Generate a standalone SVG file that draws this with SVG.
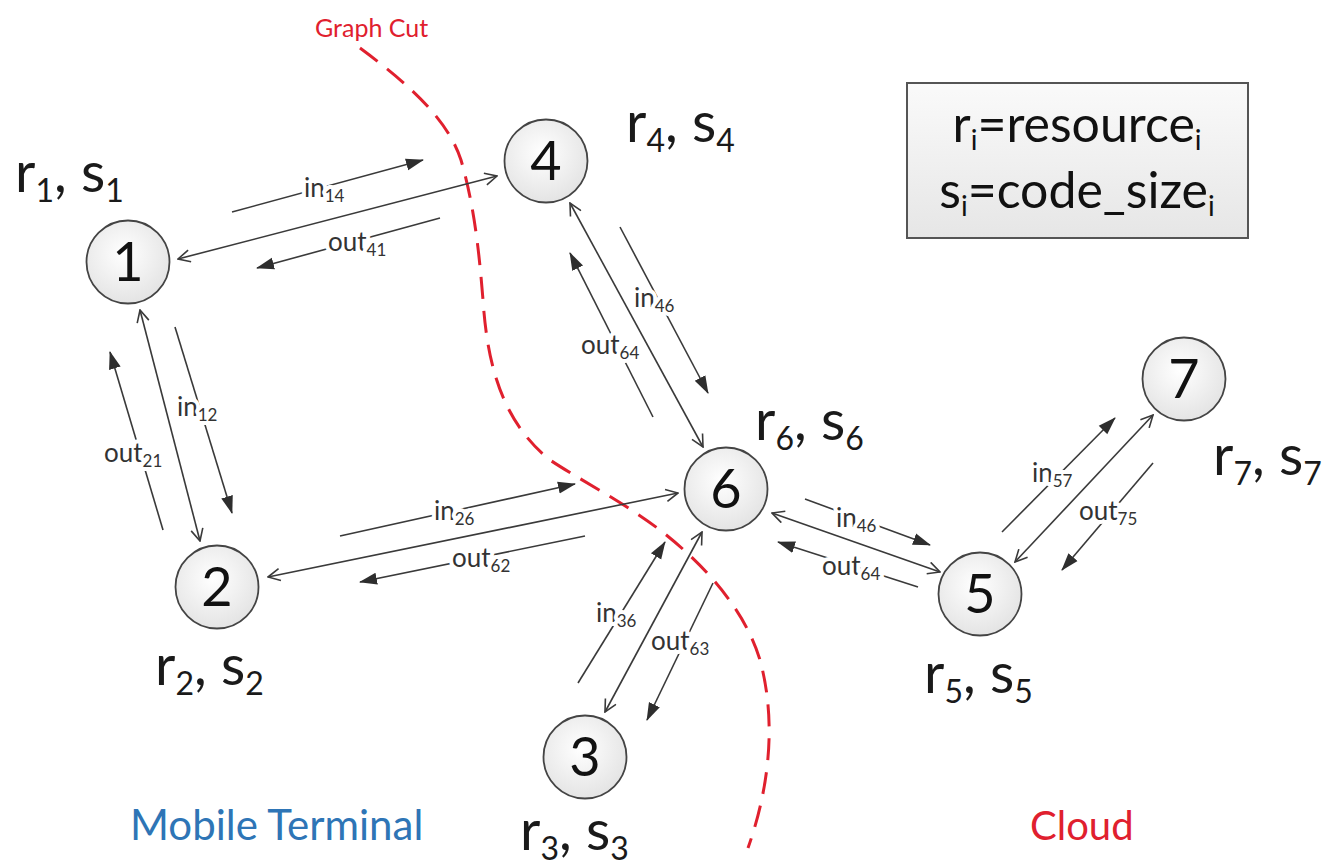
<svg xmlns="http://www.w3.org/2000/svg" width="1329" height="865" viewBox="0 0 1329 865">
<defs>
<radialGradient id="ng" cx="45%" cy="40%" r="60%"><stop offset="0" stop-color="#ffffff"/><stop offset="1" stop-color="#e4e4e4"/></radialGradient>
<linearGradient id="lg" x1="0" y1="0" x2="0" y2="1"><stop offset="0" stop-color="#fafafa"/><stop offset="1" stop-color="#e6e6e6"/></linearGradient>
<marker id="open" viewBox="0 0 14 14" refX="13" refY="7" markerWidth="14" markerHeight="14" markerUnits="userSpaceOnUse" orient="auto-start-reverse"><path d="M1,1 L13,7 L1,13" fill="none" stroke="#3a3a3a" stroke-width="1.6"/></marker>
<marker id="fill" viewBox="0 0 18 14" refX="17" refY="7" markerWidth="18" markerHeight="14" markerUnits="userSpaceOnUse" orient="auto"><path d="M0,1 L18,7 L0,13 z" fill="#2e2e2e"/></marker>
</defs>
<style>
.node circle{fill:url(#ng);stroke:#444;stroke-width:1.8}
.num{font-family:Lato,"Liberation Sans",sans-serif;font-size:54px;fill:#111;text-anchor:middle}
.rs{font-family:Lato,"Liberation Sans",sans-serif;font-size:56px;fill:#1a1a1a}
.sb{font-size:32px}
.dbl{stroke:#3a3a3a;stroke-width:1.6;fill:none;marker-start:url(#open);marker-end:url(#open)}
.par{stroke:#3a3a3a;stroke-width:1.6;fill:none;marker-end:url(#fill)}
.lab{font-family:Lato,"Liberation Sans",sans-serif;font-size:26px;fill:#333;stroke:#fff;stroke-width:8px;paint-order:stroke;stroke-linejoin:round}
.ls{font-size:17px}
.cut{stroke:#e0202e;stroke-width:3;fill:none;stroke-dasharray:22 12}
</style>
<rect width="1329" height="865" fill="#fff"/>
<g id="graph-cut">
<path class="cut" d="M 360 48 C 410 85, 448 120, 461 160 C 474 205, 479 250, 483 300 C 487 360, 500 420, 550 460 C 580 480, 620 500, 660 530 C 705 565, 745 610, 760 660 C 775 715, 772 780, 748 848"/>
<text x="315" y="37" font-family="Lato,'Liberation Sans',sans-serif" font-size="25" fill="#e0202e">Graph Cut</text>
</g>
<g id="connectors">
<line class="par" x1="232" y1="212" x2="423" y2="160"/>
<line class="par" x1="440" y1="218" x2="257" y2="268"/>
<line class="par" x1="175" y1="327" x2="232" y2="513"/>
<line class="par" x1="163" y1="530" x2="110" y2="352"/>
<line class="par" x1="620" y1="227" x2="708" y2="393"/>
<line class="par" x1="653" y1="417" x2="570" y2="253"/>
<line class="par" x1="340" y1="536" x2="575" y2="484"/>
<line class="par" x1="585" y1="536" x2="360" y2="582"/>
<line class="par" x1="578" y1="683" x2="665" y2="542"/>
<line class="par" x1="713" y1="583" x2="647" y2="720"/>
<line class="par" x1="805" y1="499" x2="930" y2="545"/>
<line class="par" x1="918" y1="587" x2="778" y2="542"/>
<line class="par" x1="1002" y1="532" x2="1115" y2="418"/>
<line class="par" x1="1153" y1="463" x2="1062" y2="570"/>
<text class="lab" x="304" y="197">in<tspan class="ls" dy="5">14</tspan></text>
<text class="lab" x="328" y="251">out<tspan class="ls" dy="5">41</tspan></text>
<text class="lab" x="177" y="416">in<tspan class="ls" dy="5">12</tspan></text>
<text class="lab" x="104" y="462">out<tspan class="ls" dy="5">21</tspan></text>
<text class="lab" x="634" y="307">in<tspan class="ls" dy="5">46</tspan></text>
<text class="lab" x="581" y="354">out<tspan class="ls" dy="5">64</tspan></text>
<text class="lab" x="434" y="520">in<tspan class="ls" dy="5">26</tspan></text>
<text class="lab" x="452" y="567">out<tspan class="ls" dy="5">62</tspan></text>
<text class="lab" x="596" y="622">in<tspan class="ls" dy="5">36</tspan></text>
<text class="lab" x="651" y="650">out<tspan class="ls" dy="5">63</tspan></text>
<text class="lab" x="836" y="527">in<tspan class="ls" dy="5">46</tspan></text>
<text class="lab" x="822" y="575">out<tspan class="ls" dy="5">64</tspan></text>
<text class="lab" x="1032" y="482">in<tspan class="ls" dy="5">57</tspan></text>
<text class="lab" x="1079" y="520">out<tspan class="ls" dy="5">75</tspan></text>
<line class="dbl" x1="178" y1="259" x2="497" y2="176"/>
<line class="dbl" x1="140" y1="310" x2="200" y2="541"/>
<line class="dbl" x1="268" y1="577" x2="678" y2="493"/>
<line class="dbl" x1="570" y1="203" x2="703" y2="447"/>
<line class="dbl" x1="605" y1="712" x2="702" y2="532"/>
<line class="dbl" x1="772" y1="513" x2="940" y2="572"/>
<line class="dbl" x1="1015" y1="562" x2="1153" y2="415"/>
</g>
<g id="node1" class="node"><circle cx="128" cy="262" r="41.5"/><text class="num" x="128" y="281">1</text><text class="rs" x="15" y="192">r<tspan class="sb" dy="10">1</tspan><tspan dy="-10">, s</tspan><tspan class="sb" dy="10">1</tspan></text></g>
<g id="node2" class="node"><circle cx="217" cy="587" r="41.5"/><text class="num" x="217" y="606">2</text><text class="rs" x="155" y="685">r<tspan class="sb" dy="10">2</tspan><tspan dy="-10">, s</tspan><tspan class="sb" dy="10">2</tspan></text></g>
<g id="node3" class="node"><circle cx="585" cy="757" r="41.5"/><text class="num" x="585" y="776">3</text><text class="rs" x="520" y="850">r<tspan class="sb" dy="10">3</tspan><tspan dy="-10">, s</tspan><tspan class="sb" dy="10">3</tspan></text></g>
<g id="node4" class="node"><circle cx="546" cy="161" r="41.5"/><text class="num" x="546" y="180">4</text><text class="rs" x="626" y="142">r<tspan class="sb" dy="10">4</tspan><tspan dy="-10">, s</tspan><tspan class="sb" dy="10">4</tspan></text></g>
<g id="node5" class="node"><circle cx="980" cy="594" r="41.5"/><text class="num" x="980" y="613">5</text><text class="rs" x="924" y="693">r<tspan class="sb" dy="10">5</tspan><tspan dy="-10">, s</tspan><tspan class="sb" dy="10">5</tspan></text></g>
<g id="node6" class="node"><circle cx="726" cy="489" r="41.5"/><text class="num" x="726" y="508">6</text><text class="rs" x="755" y="440">r<tspan class="sb" dy="10">6</tspan><tspan dy="-10">, s</tspan><tspan class="sb" dy="10">6</tspan></text></g>
<g id="node7" class="node"><circle cx="1184" cy="379" r="41.5"/><text class="num" x="1184" y="398">7</text><text class="rs" x="1213" y="475">r<tspan class="sb" dy="10">7</tspan><tspan dy="-10">, s</tspan><tspan class="sb" dy="10">7</tspan></text></g>
<g id="legend">
<rect x="907" y="83" width="341" height="155" fill="url(#lg)" stroke="#555" stroke-width="2"/>
<text x="1077" y="142" text-anchor="middle" font-family="Lato,'Liberation Sans',sans-serif" font-size="50" fill="#111">r<tspan font-size="28" dy="8">i</tspan><tspan dy="-8">=resource</tspan><tspan font-size="28" dy="8">i</tspan></text>
<text x="1077" y="208" text-anchor="middle" font-family="Lato,'Liberation Sans',sans-serif" font-size="50" fill="#111">s<tspan font-size="28" dy="8">i</tspan><tspan dy="-8">=code_size</tspan><tspan font-size="28" dy="8">i</tspan></text>
</g>
<g id="regions">
<text x="130" y="840" font-family="Lato,'Liberation Sans',sans-serif" font-size="42" fill="#2e75b6">Mobile Terminal</text>
<text x="1030" y="840" font-family="Lato,'Liberation Sans',sans-serif" font-size="40" fill="#e0202e">Cloud</text>
</g>
</svg>
